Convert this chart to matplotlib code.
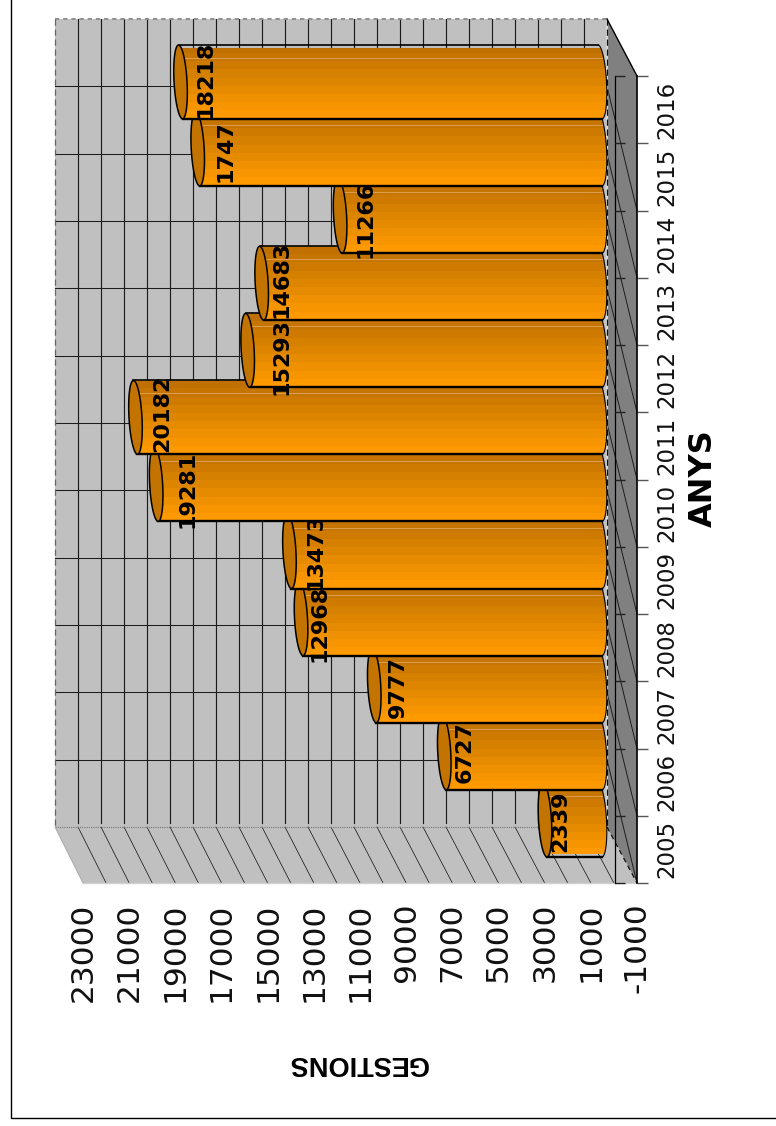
import numpy as np
import matplotlib
matplotlib.use("Agg")
import matplotlib.pyplot as plt
from matplotlib.patches import Polygon

# ---- data ----
years = ["2005", "2006", "2007", "2008", "2009", "2010", "2011", "2012", "2013", "2014", "2015", "2016"]
values = [2339, 6727, 9777, 12968, 13473, 19281, 20182, 15293, 14683, 11266, 17470, 18218]
value_labels = ["2339", "6727", "9777", "12968", "13473", "19281", "20182", "15293", "14683", "11266", "1747", "18218"]
value_ticks = list(range(-1000, 23001, 2000))
value_tick_labels = [str(v) for v in value_ticks]
grid_values = list(range(-1000, 23001, 1000))

# ---- layout (pixels) ----
W, H = 776, 1126
LABEL_X = [560, 465, 398, 320, 315, 187, 162, 282, 282, 366, 226, 206]
LABEL_BOTTOM = [852, 783, 718, 662, 590, 528, 452, 395, 318, 258, 182, 118]

BANDS = ["#BF7000", "#C67500", "#CE7A00", "#D68000", "#DE8500", "#E68A00", "#EE9000", "#F79500", "#FF9900"]
CAP = "#C27300"
WALL = "#C0C0C0"
SIDE = "#808080"
LINE = "#1c1c1c"

fig = plt.figure(figsize=(W / 100, H / 100), dpi=100, facecolor="white")


def axes_px(left, top, right, bottom):
    return fig.add_axes([left / W, 1 - bottom / H, (right - left) / W, (bottom - top) / H])


# background: walls and floor, drawn in pixel space
bg = fig.add_axes([0, 0, 1, 1])
bg.set_xlim(0, W)
bg.set_ylim(H, 0)
bg.axis("off")

bx0, bx1, by0, by1 = 55, 607, 19, 827      # back wall
fx0, fx1, fy0, fy1 = 83, 637, 76, 883      # front edges

bg.add_patch(Polygon([(bx0, by0), (bx1, by0), (bx1, by1), (bx0, by1)], fc=WALL, ec="none"))
bg.add_patch(Polygon([(bx0, by1), (bx1, by1), (fx1, fy1), (fx0, fy1)], fc=WALL, ec="none"))
bg.add_patch(Polygon([(bx1, by0), (fx1, fy0), (fx1, fy1), (bx1, by1)], fc=SIDE, ec="none"))
# lighter floor corner below the side wall
bg.add_patch(Polygon([(614.5, 840), (fx1, fy1), (614.5, fy1)], fc=WALL, ec="none"))


def back_x(v):
    return bx1 - (v + 1000) * (bx1 - bx0) / 24000


def front_x(v):
    return fx1 - (v + 1000) * (fx1 - fx0) / 24000


for v in grid_values[1:-1]:
    bg.plot([back_x(v)] * 2, [by0, 823], color=LINE, lw=0.85)
    bg.plot([back_x(v), front_x(v)], [by1, fy1], color=LINE, lw=0.55)

back_rows = np.linspace(by0, by1, len(years) + 1)
front_rows = np.linspace(fy0, fy1, len(years) + 1)
for yb, yf in zip(back_rows[1:-1], front_rows[2:]):
    bg.plot([bx0, bx1], [yb, yb], color=LINE, lw=0.75)
    bg.plot([bx1, fx1], [yb, yf], color=LINE, lw=0.7)

# wall edges
bg.plot([bx0, bx1], [by0, by0], color="#8f8f8f", lw=1.4, ls=(0, (2.2, 2.0)))
bg.plot([bx0, bx0], [by0, by1], color="#666666", lw=0.9, ls=(0, (5, 3)))
bg.plot([bx0, bx1], [by1, by1], color="#777777", lw=0.8, ls=(0, (1, 1)))
bg.plot([bx1, bx1], [by0, by1], color="#d8d8d8", lw=1.6)
bg.plot([bx1, bx1], [by0, by1], color="#111111", lw=0.9, ls=(0, (5, 3)))
bg.plot([bx1, fx1], [by1, fy1], color="#111111", lw=0.9, ls=(0, (4, 3)))
bg.plot([bx1, fx1], [by0, fy0], color="black", lw=1.0)
bg.plot([bx0, fx0], [by1, fy1], color="#aaaaaa", lw=0.7)
bg.plot([fx0, fx1], [fy1, fy1], color="#d0d0d0", lw=1.0)
# inner category axis
bg.plot([614.5, 614.5], [fy0, fy1], color="black", lw=0.9)
bg.hlines(front_rows, 614.5, 625, color="#222222", lw=1.0)

# figure border (left and bottom only)
bg.plot([11, 11, 775], [0, 1118, 1118], color="black", lw=1.0, solid_joinstyle="miter")

# front axes: real tick labels for both axes
front = axes_px(fx0, fy0, fx1, fy1)
front.patch.set_alpha(0)
front.set_xlim(23000, -1000)
front.set_ylim(-0.5, 11.5)
for s in front.spines.values():
    s.set_visible(False)
front.spines["right"].set_visible(True)
front.spines["right"].set_color("black")
front.spines["right"].set_linewidth(1.2)
front.set_xticks(value_ticks)
front.set_xticklabels(value_tick_labels, rotation=90, ha="center", va="top",
                      fontsize=22.5, family="DejaVu Sans", color="#111111")
front.tick_params(axis="x", length=0, pad=14)
front.yaxis.tick_right()
front.set_yticks(range(len(years)))
front.set_yticklabels(years, rotation=90, va="center", ha="left",
                      fontsize=16.5, family="DejaVu Sans", color="#111111")
front.set_yticks(np.arange(-0.5, 12, 1), minor=True)
front.tick_params(axis="y", which="major", length=0, pad=13)
front.tick_params(axis="y", which="minor", length=8, width=1.0, color="#555555")

# bars axes: value / category scales at the mid-depth plane
ax = axes_px(70.8, 48.35, 621.6, 853.55)
ax.patch.set_alpha(0)
ax.set_xlim(23000, -1000)
ax.set_ylim(-0.5, 11.5)
ax.axis("off")

BASE = -60
HALF = 0.55           # half bar height, category units
CAP_A = 283           # cap half width, value units
CAP_S = 87            # cap shear, value units


def cap_pts(v, i, t):
    return np.column_stack([v + CAP_A * np.cos(t) + CAP_S * np.sin(t), i + HALF * np.sin(t)])


n = len(BANDS)
for i, (v, lab) in enumerate(zip(values, value_labels)):
    z = 10 + i * 5
    arc = cap_pts(BASE, i, np.linspace(np.pi / 2, 3 * np.pi / 2, 40))
    body = np.vstack([cap_pts(v, i, np.array([np.pi / 2])), arc, cap_pts(v, i, np.array([3 * np.pi / 2]))])
    clip = Polygon(body, closed=True, fc="none", ec="none", zorder=z, clip_on=False)
    ax.add_patch(clip)
    h = 2 * HALF / n
    for j, col in enumerate(BANDS):
        bars = ax.barh(i + HALF - (j + 0.5) * h, v - BASE + 2 * CAP_A, height=h * 1.05,
                       left=BASE - CAP_A - CAP_S, color=col, lw=0, zorder=z)
        bars[0].set_clip_path(clip)
        bars[0].set_clip_on(True)
    # highlight streak
    streak = ax.plot([v, BASE - CAP_A], [i + HALF * 0.65] * 2, color="#DDA050", lw=0.7, zorder=z + 0.2)[0]
    streak.set_clip_path(clip)
    # outline
    ax.plot(arc[:, 0], arc[:, 1], color="black", lw=0.8, zorder=z + 1, clip_on=False)
    ax.plot([v + CAP_S, arc[0, 0]], [i + HALF, i + HALF], color="black", lw=1.2, zorder=z + 1, clip_on=False)
    ax.plot([v - CAP_S, arc[-1, 0]], [i - HALF, i - HALF], color="black", lw=1.7, zorder=z + 1, clip_on=False)
    # end cap
    cap = cap_pts(v, i, np.linspace(0, 2 * np.pi, 80))
    ax.add_patch(Polygon(cap, closed=True, fc=CAP, ec="black", lw=1.1, zorder=z + 2, clip_on=False))
    # value label (px position)
    ax.text(LABEL_X[i], LABEL_BOTTOM[i], lab, transform=bg.transData, rotation=90,
            ha="center", va="bottom", fontsize=16, fontweight="bold", family="DejaVu Sans",
            color="black", zorder=z + 3, clip_on=False)

# axis titles
bg.text(703, 478.5, "ANYS", rotation=90, ha="center", va="center", fontsize=23,
        fontweight="bold", family="DejaVu Sans", color="black")
bg.text(358, 1063.5, "GESTIONS", rotation=180, ha="center", va="center", fontsize=19.5,
        fontweight="bold", family="Liberation Sans", color="black")

fig.savefig("out.png", dpi=100, facecolor="white")
